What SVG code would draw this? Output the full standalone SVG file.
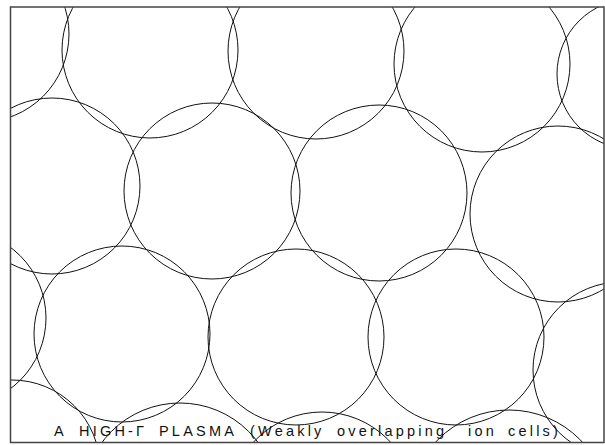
<svg xmlns="http://www.w3.org/2000/svg" width="605" height="445" viewBox="0 0 605 445">
<style>
.cell{fill:none;stroke:#111;stroke-width:1}
.frame{fill:none;stroke:#444;stroke-width:1.5}
.cap{font-family:"Liberation Sans",Arial,sans-serif;font-size:14.5px;letter-spacing:3.2px;fill:#111}
</style>
<defs>
<clipPath id="box"><rect x="10.5" y="7" width="593.5" height="435.5"/></clipPath>
</defs>
<rect width="605" height="445" fill="#fff"/>
<g id="cells" clip-path="url(#box)">
<circle id="c-a0" class="cell" cx="-19" cy="34" r="88"/>
<circle id="c-a" class="cell" cx="150" cy="50" r="88"/>
<circle id="c-b" class="cell" cx="316" cy="51" r="88"/>
<circle id="c-c" class="cell" cx="482" cy="64" r="88"/>
<circle id="c-d" class="cell" cx="632" cy="74" r="75"/>
<circle id="c-e0" class="cell" cx="52" cy="186" r="88"/>
<circle id="c-e" class="cell" cx="212" cy="191" r="88"/>
<circle id="c-f" class="cell" cx="379" cy="193" r="88"/>
<circle id="c-g" class="cell" cx="558" cy="214" r="88"/>
<circle id="c-h0" class="cell" cx="-42" cy="318" r="88"/>
<circle id="c-h" class="cell" cx="122" cy="334" r="88"/>
<circle id="c-i" class="cell" cx="296" cy="337" r="88"/>
<circle id="c-j" class="cell" cx="456" cy="337" r="88"/>
<circle id="c-k" class="cell" cx="621" cy="370" r="88"/>
<circle id="c-p" class="cell" cx="12" cy="468" r="88"/>
<circle id="c-l" class="cell" cx="180" cy="500" r="97"/>
<circle id="c-m" class="cell" cx="322" cy="505" r="93"/>
<circle id="c-n" class="cell" cx="509" cy="510" r="100"/>
</g>
<rect id="frame" class="frame" x="10.5" y="7" width="593.5" height="435.5"/>
<text id="caption" class="cap" y="436"><tspan x="54">A</tspan><tspan x="79">HIGH-Γ</tspan><tspan x="159">PLASMA</tspan><tspan x="250">(Weakly</tspan><tspan x="337">overlapping</tspan><tspan x="468">ion</tspan><tspan x="508">cells)</tspan></text>
</svg>
